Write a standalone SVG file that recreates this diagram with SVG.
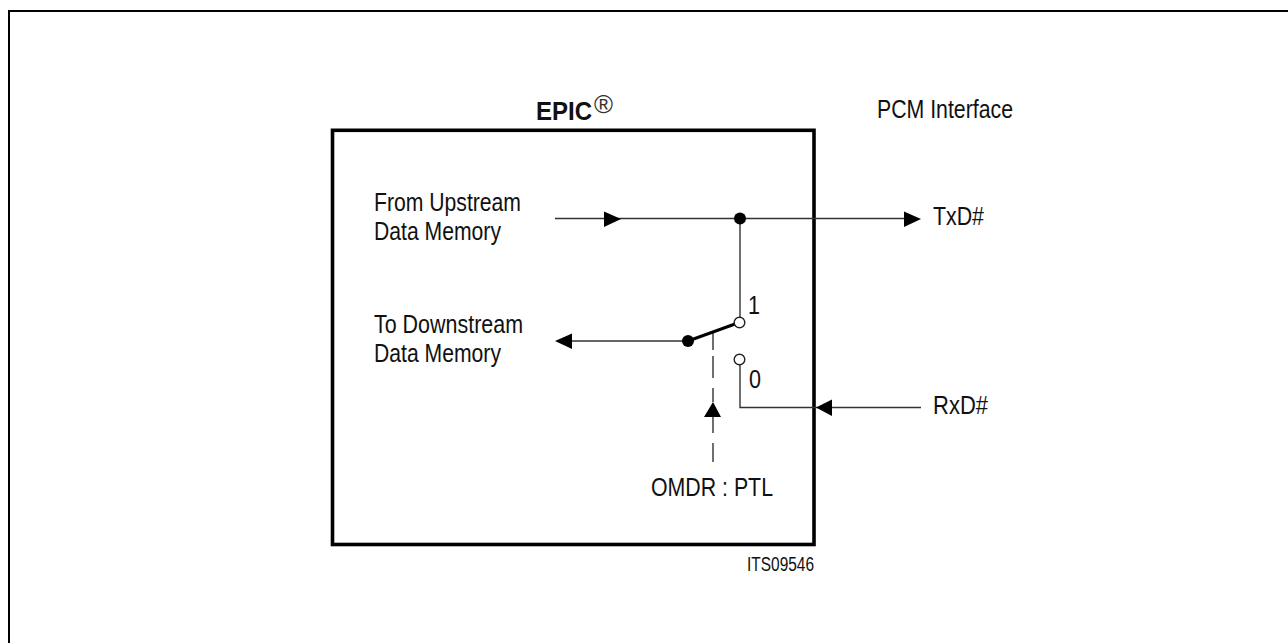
<svg xmlns="http://www.w3.org/2000/svg" width="1288" height="643" viewBox="0 0 1288 643">
<style>
text{font-family:"Liberation Sans",Arial,sans-serif;font-size:26px;fill:#111}
.small{font-size:20px}
.b{font-weight:bold;font-size:25px}
.reg{font-size:25px;fill:#333}
.w{fill:none;stroke:#333;stroke-width:1.4}
.frame{fill:none;stroke:#000;stroke-width:2}
.box{fill:none;stroke:#000;stroke-width:3.6}
.dot{fill:#000}
.open{fill:#fff;stroke:#222;stroke-width:1.4}
</style>
<rect width="1288" height="643" fill="#fff"/>
<path class="frame" d="M9 643V11H1288"/>
<g id="epic-box"><rect class="box" x="332.500" y="130.300" width="481.500" height="414.200"/>
<text class="b" x="536" y="120" textLength="56" lengthAdjust="spacingAndGlyphs">EPIC</text>
<text class="reg" x="594" y="113" textLength="19" lengthAdjust="spacingAndGlyphs">®</text></g>
<g id="connectors">
<path class="w" d="M555 218.500H905M740 218.500V318"/>
<path class="w" d="M570 341H688"/>
<path class="w" d="M740 364V407.500H921"/>
<path class="w" d="M713 333V350M713 356V378M713 388V402M713 417V433M713 443V462"/>
<path d="M688 341L735 324" fill="none" stroke="#000" stroke-width="3"/>
<path class="dot" d="M604 211.500L621 219L604 227ZM904 211.500L921 219L904 227ZM555 341L572 333.500V349ZM816 407.500L832 399.500V416ZM713 402L721 417H704Z"/>
</g>
<g id="junction"><circle class="dot" cx="740" cy="218.500" r="6"/></g>
<g id="switch"><circle class="dot" cx="688" cy="341" r="6"/><circle class="open" cx="739.500" cy="322.500" r="5.300"/><circle class="open" cx="739.500" cy="359.500" r="5.300"/>
<text x="748" y="314" textLength="12" lengthAdjust="spacingAndGlyphs">1</text><text x="749" y="388" textLength="12" lengthAdjust="spacingAndGlyphs">0</text></g>
<g id="pcm"><text x="877" y="118" textLength="136" lengthAdjust="spacingAndGlyphs">PCM Interface</text></g>
<g id="from"><text x="374" y="210.500" textLength="147" lengthAdjust="spacingAndGlyphs">From Upstream</text><text x="374" y="240" textLength="127" lengthAdjust="spacingAndGlyphs">Data Memory</text></g>
<g id="to"><text x="374" y="333" textLength="149" lengthAdjust="spacingAndGlyphs">To Downstream</text><text x="374" y="362" textLength="127" lengthAdjust="spacingAndGlyphs">Data Memory</text></g>
<g id="txd"><text x="933" y="225" textLength="51" lengthAdjust="spacingAndGlyphs">TxD#</text></g>
<g id="rxd"><text x="933" y="414" textLength="55" lengthAdjust="spacingAndGlyphs">RxD#</text></g>
<g id="omdr"><text x="651" y="496" textLength="122" lengthAdjust="spacingAndGlyphs">OMDR : PTL</text></g>
<g id="its"><text class="small" x="747" y="571" textLength="67" lengthAdjust="spacingAndGlyphs">ITS09546</text></g>
</svg>
